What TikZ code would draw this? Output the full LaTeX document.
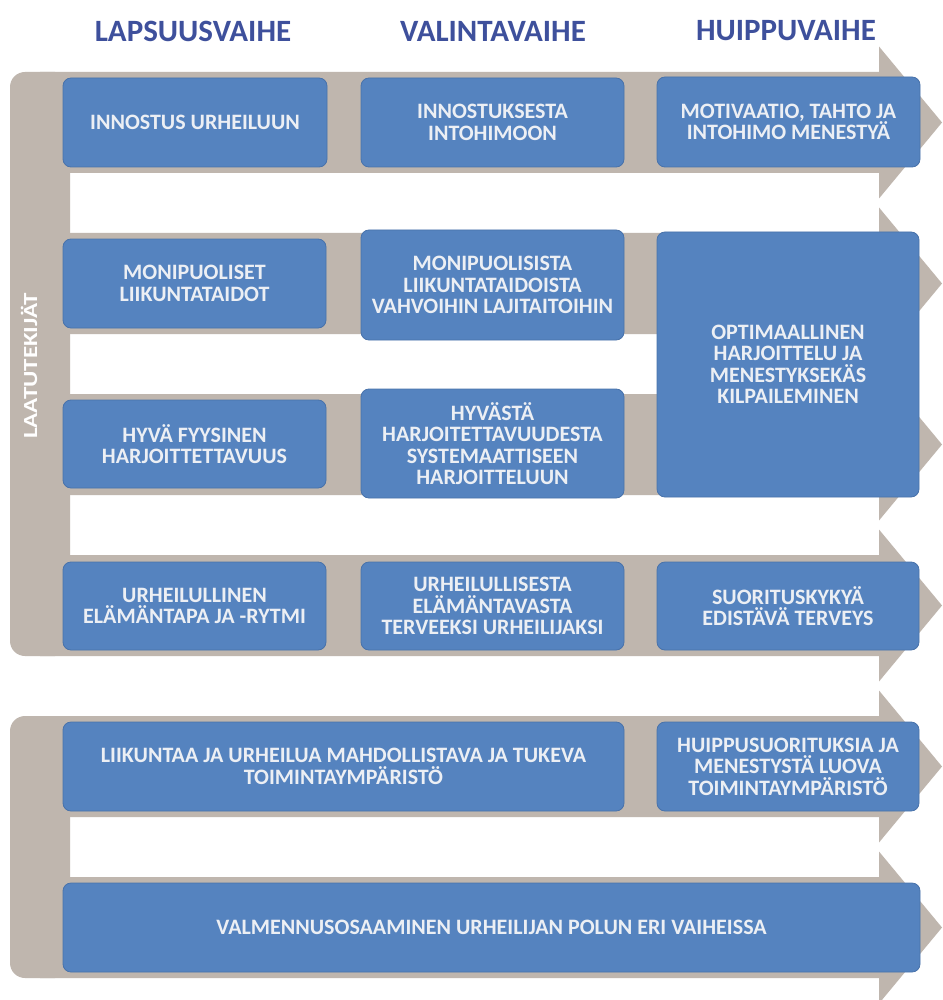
\documentclass[tikz,border=0pt]{standalone}
\usepackage{fontspec}
\setmainfont{Carlito}
\definecolor{bandgray}{RGB}{191,182,174}
\definecolor{boxblue}{RGB}{85,131,191}
\definecolor{boxedge}{RGB}{72,114,170}
\definecolor{boxtext}{RGB}{236,239,244}
\definecolor{headblue}{RGB}{62,80,156}
\tikzset{
  bluebox/.style={rectangle, rounded corners=8pt, fill=boxblue, draw=boxedge, line width=0.8pt,
    inner sep=4pt, align=center, text=boxtext,
    font=\fontsize{22}{21.5}\selectfont\bfseries},
  phase/.style={text=headblue, font=\fontsize{31}{33}\selectfont\bfseries, inner sep=0pt},
  sidelabel/.style={text=white, font=\fontsize{20}{22}\selectfont\bfseries, rotate=90, inner sep=0pt}
}
\newcommand{\bandarrow}[1]{%
  \fill[bandgray] (40,#1) -- (879,#1) -- (879,#1+50.5-76) -- (942,#1+50.5) -- (879,#1+50.5+76)
    -- (879,#1+101) -- (40,#1+101) -- cycle;}
\begin{document}
\begin{tikzpicture}[x=1pt,y=-1pt]
\useasboundingbox (0,0) rectangle (942,1000);
\fill[white] (0,0) rectangle (942,1000);
% headers
\node[phase] (h1) at (193,31) {LAPSUUSVAIHE};
\node[phase] (h2) at (493,31) {VALINTAVAIHE};
\node[phase] (h3) at (786,31) {HUIPPUVAIHE};
% gray group 1
\fill[bandgray, rounded corners=15pt] (10,72) rectangle (70,656);
\bandarrow{72}
\bandarrow{233}
\bandarrow{394}
\bandarrow{555}
% gray group 2
\fill[bandgray, rounded corners=15pt] (10,716) rectangle (70,978);
\bandarrow{716}
\bandarrow{877}
% side label
\node[sidelabel] (side) at (29,366) {\scalebox{1.25}[1]{LAATUTEKIJÄT}};
% row 1
\node[bluebox, minimum width=264pt, minimum height=89pt] (r1c1) at (195,122.5) {INNOSTUS URHEILUUN};
\node[bluebox, minimum width=263pt, minimum height=89pt] (r1c2) at (492.5,122.5) {INNOSTUKSESTA\\INTOHIMOON};
\node[bluebox, minimum width=263pt, minimum height=90pt] (r1c3) at (788.5,122) {MOTIVAATIO, TAHTO JA\\INTOHIMO MENESTYÄ};
% row 2
\node[bluebox, minimum width=263pt, minimum height=89pt] (r2c1) at (194.5,283.5) {MONIPUOLISET\\LIIKUNTATAIDOT};
\node[bluebox, minimum width=263pt, minimum height=110pt] (r2c2) at (492.5,285) {MONIPUOLISISTA\\LIIKUNTATAIDOISTA\\VAHVOIHIN LAJITAITOIHIN};
\node[bluebox, minimum width=262pt, minimum height=265pt] (r2c3) at (788,364.5) {OPTIMAALLINEN\\HARJOITTELU JA\\MENESTYKSEKÄS\\KILPAILEMINEN};
% row 3
\node[bluebox, minimum width=263pt, minimum height=88pt] (r3c1) at (194.5,444) {HYVÄ FYYSINEN\\HARJOITTETTAVUUS};
\node[bluebox, minimum width=263pt, minimum height=109pt] (r3c2) at (492.5,443.5) {HYVÄSTÄ\\HARJOITETTAVUUDESTA\\SYSTEMAATTISEEN\\HARJOITTELUUN};
% row 4
\node[bluebox, minimum width=263pt, minimum height=88pt] (r4c1) at (194.5,606) {URHEILULLINEN\\ELÄMÄNTAPA JA -RYTMI};
\node[bluebox, minimum width=263pt, minimum height=88pt] (r4c2) at (492.5,606) {URHEILULLISESTA\\ELÄMÄNTAVASTA\\TERVEEKSI URHEILIJAKSI};
\node[bluebox, minimum width=262pt, minimum height=88pt] (r4c3) at (788,606) {SUORITUSKYKYÄ\\EDISTÄVÄ TERVEYS};
% row 5
\node[bluebox, minimum width=561pt, minimum height=89pt] (r5c1) at (343.5,766.5) {LIIKUNTAA JA URHEILUA MAHDOLLISTAVA JA TUKEVA\\TOIMINTAYMPÄRISTÖ};
\node[bluebox, minimum width=262pt, minimum height=89pt] (r5c3) at (788,766.5) {HUIPPUSUORITUKSIA JA\\MENESTYSTÄ LUOVA\\TOIMINTAYMPÄRISTÖ};
% row 6
\node[bluebox, minimum width=857pt, minimum height=89pt] (r6) at (491.5,927.5) {VALMENNUSOSAAMINEN URHEILIJAN POLUN ERI VAIHEISSA};
\end{tikzpicture}
\end{document}
